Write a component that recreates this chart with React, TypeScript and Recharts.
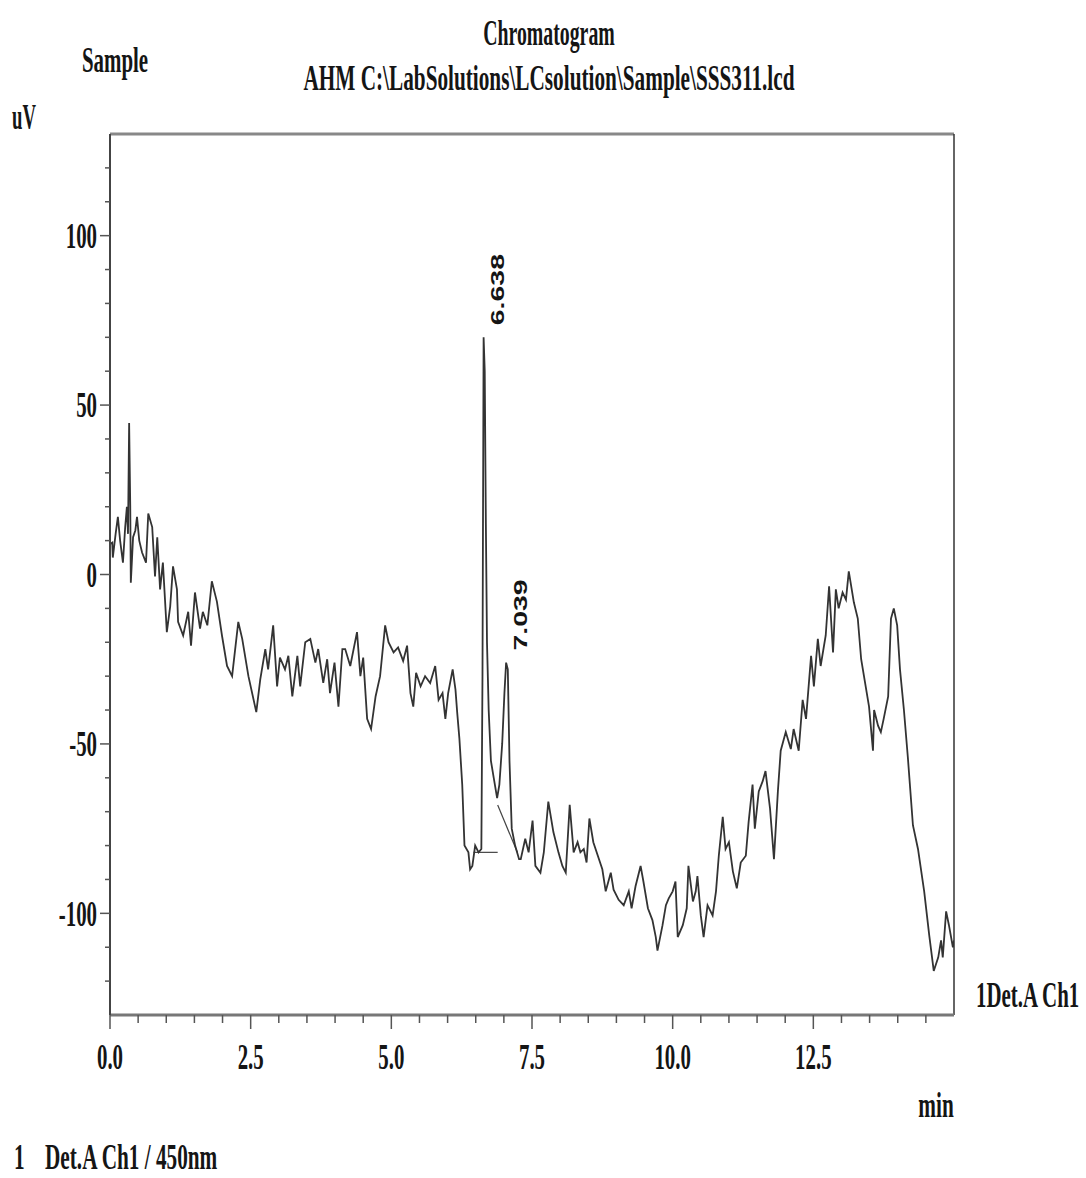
import React from 'react';
import { LineChart, Line, XAxis, YAxis, ReferenceLine, ReferenceDot } from 'recharts';

// Retention time (min) / signal (uV).
const traceDrift: [number, number][] = [
  [0.0, 9], [0.04, 9.4], [0.05, 5], [0.1, 12], [0.14, 17], [0.18, 10], [0.23, 3.5],
  [0.27, 14], [0.3, 20], [0.32, 12], [0.34, 44.7], [0.36, 20], [0.37, -2.4], [0.41, 11],
  [0.45, 13], [0.48, 17], [0.52, 10], [0.57, 6.5], [0.64, 3.5], [0.68, 18], [0.75, 14],
  [0.8, -0.6], [0.84, 11], [0.89, -4.4], [0.94, 3.5], [1.01, -17], [1.07, -9.4],
  [1.12, 2.4], [1.19, -4.4], [1.21, -14], [1.3, -18], [1.39, -11], [1.44, -21],
  [1.51, -5.3], [1.6, -16], [1.65, -11], [1.73, -15], [1.81, -2], [1.9, -8], [1.99, -18],
  [2.08, -27], [2.17, -30], [2.28, -14], [2.35, -19], [2.46, -30], [2.6, -40.6],
  [2.67, -31], [2.76, -22], [2.81, -28], [2.9, -15], [2.97, -33], [3.02, -24.5],
  [3.11, -28], [3.17, -24], [3.24, -36], [3.33, -24], [3.38, -33], [3.47, -20],
  [3.56, -19], [3.65, -26], [3.7, -22], [3.79, -32], [3.86, -25], [3.91, -35],
  [3.99, -26], [4.06, -39], [4.13, -22],
];

const tracePlateau: [number, number][] = [
  [4.18, -22], [4.27, -27], [4.39, -17], [4.45, -30], [4.5, -24.5], [4.57, -42.6],
  [4.64, -45.6], [4.72, -36], [4.8, -30], [4.89, -15], [4.95, -20], [5.04, -23],
  [5.12, -21.5], [5.21, -25.5], [5.28, -21], [5.34, -35], [5.39, -39], [5.44, -29],
  [5.52, -33], [5.6, -30], [5.69, -32], [5.78, -27], [5.84, -37], [5.91, -35],
  [5.96, -42.6], [6.01, -35], [6.09, -28], [6.14, -34], [6.17, -40.6], [6.21, -48.5],
  [6.26, -62], [6.3, -80], [6.37, -82], [6.4, -87], [6.44, -86], [6.49, -80],
  [6.55, -82], [6.6, -81],
];

const tracePeaks: [number, number][] = [
  [6.62, -30], [6.64, 70], [6.66, 60], [6.68, 15], [6.7, -20], [6.73, -40], [6.77, -55],
  [6.82, -60], [6.88, -66], [6.92, -62], [6.97, -50], [7.01, -35], [7.04, -26],
  [7.07, -28], [7.1, -55], [7.14, -75], [7.2, -80], [7.27, -84],
];

const traceValley: [number, number][] = [
  [7.3, -84], [7.38, -78], [7.44, -82], [7.51, -72.6], [7.56, -86], [7.65, -88],
  [7.71, -82], [7.79, -67], [7.88, -76], [7.97, -82], [8.04, -86], [8.1, -88],
  [8.17, -68], [8.24, -82], [8.31, -79], [8.36, -82], [8.42, -81], [8.47, -85],
  [8.52, -72], [8.59, -79], [8.67, -83], [8.75, -87], [8.81, -93.5], [8.9, -88],
  [8.95, -93], [9.04, -96], [9.13, -97.6], [9.22, -93.5], [9.27, -98.5], [9.34, -92],
  [9.43, -86], [9.48, -90.6], [9.56, -98.5], [9.64, -102], [9.7, -107], [9.73, -111],
  [9.82, -103.5], [9.88, -97.6], [9.93, -95.6], [10.0, -93.5], [10.05, -90.6],
  [10.09, -107], [10.18, -103.5], [10.25, -98.5], [10.28, -86], [10.36, -96.5],
  [10.41, -93.5], [10.44, -89], [10.5, -100.6], [10.55, -107], [10.62, -97.6],
  [10.71, -100.6], [10.77, -93.5], [10.82, -83], [10.89, -71.5], [10.94, -81],
  [11.0, -79], [11.07, -87.6], [11.14, -92.6], [11.21, -85], [11.3, -83], [11.35, -73],
  [11.42, -62], [11.46, -75], [11.53, -64], [11.6, -61], [11.65, -58], [11.73, -69],
  [11.8, -84], [11.87, -64], [11.92, -52],
];

const traceHump: [number, number][] = [
  [12.01, -46.5], [12.1, -51.5], [12.15, -45.6], [12.24, -52], [12.31, -37],
  [12.37, -42.6], [12.46, -24], [12.51, -33], [12.58, -19], [12.63, -27], [12.72, -18],
  [12.78, -3.5], [12.85, -23], [12.9, -4.4], [12.95, -10], [13.02, -5.3], [13.08, -7.4],
  [13.13, 0.9], [13.22, -8.2], [13.29, -13], [13.35, -25], [13.4, -30], [13.49, -39],
  [13.56, -52], [13.58, -40], [13.65, -44.6], [13.7, -46.5], [13.75, -42.6],
  [13.83, -36], [13.88, -13], [13.93, -10], [13.99, -15], [14.04, -28], [14.11, -40],
  [14.18, -54], [14.27, -74], [14.36, -81], [14.47, -93.5], [14.56, -106.5],
  [14.64, -117], [14.72, -113], [14.77, -108], [14.8, -113], [14.86, -99.4],
  [14.91, -103.5], [14.98, -110], [15.0, -108],
];

// integration baselines drawn under the two peaks
const baselinePeak1: [number, number][] = [[6.46, -82], [6.89, -82]];
const baselinePeak2: [number, number][] = [[6.89, -68], [7.24, -82]];

const peaks = [
  { t: 6.638, v: 70, label: '6.638' },
  { t: 7.039, v: -26, label: '7.039' },
];

const timeTicks = [
  0, 0.5, 1, 1.5, 2, 2.5, 3, 3.5, 4, 4.5, 5, 5.5, 6, 6.5, 7, 7.5, 8, 8.5, 9, 9.5, 10,
  10.5, 11, 11.5, 12, 12.5, 13, 13.5, 14, 14.5,
];
const timeLabels = [0, 2.5, 5, 7.5, 10, 12.5];
const uvTicks = [
  -120, -110, -100, -90, -80, -70, -60, -50, -40, -30, -20, -10, 0, 10, 20, 30, 40, 50,
  60, 70, 80, 90, 100, 110, 120,
];
const uvLabels = [-100, -50, 0, 50, 100];

const toPoints = (rows: [number, number][]) => rows.map(([t, v]) => ({ t, v }));
const trace = toPoints([...traceDrift, ...tracePlateau, ...tracePeaks, ...traceValley, ...traceHump]);

const SERIF = '"Liberation Serif", "Times New Roman", serif';
const INK = '#151515';
const FONT_PX = 36;
const SQUEEZE = 0.58;

function TimeTick({ x, y, payload }: any) {
  const major = timeLabels.includes(payload.value);
  return (
    <g>
      <line x1={x} x2={x} y1={y} y2={y + (major ? 14 : 8)} stroke="#555" strokeWidth={1.5} />
      {major && (
        <text
          transform={`translate(${x},${y + 42}) scale(${SQUEEZE},1)`}
          textAnchor="middle"
          dominantBaseline="central"
          fontFamily={SERIF}
          fontWeight={700}
          fontSize={FONT_PX}
          fill={INK}
        >
          {payload.value.toFixed(1)}
        </text>
      )}
    </g>
  );
}

function UvTick({ x, y, payload }: any) {
  const major = uvLabels.includes(payload.value);
  return (
    <g>
      <line x1={x} x2={x - (major ? 10 : 5)} y1={y} y2={y} stroke="#555" strokeWidth={1.5} />
      {major && (
        <text
          transform={`translate(${x - 13},${y}) scale(${SQUEEZE},1)`}
          textAnchor="end"
          dominantBaseline="central"
          fontFamily={SERIF}
          fontWeight={700}
          fontSize={FONT_PX}
          fill={INK}
        >
          {payload.value}
        </text>
      )}
    </g>
  );
}

const peakLabel = (text: string) => (props: any) => {
  const { viewBox } = props;
  const cx = viewBox.x + (viewBox.width || 0) / 2;
  const cy = viewBox.y + (viewBox.height || 0) / 2;
  return (
    <text
      transform={`translate(${cx + 14},${cy - 12}) rotate(-90) scale(1.5,1)`}
      textAnchor="start"
      dominantBaseline="central"
      fontFamily='"Liberation Sans", Arial, sans-serif'
      fontWeight={700}
      fontSize={19}
      fill={INK}
    >
      {text}
    </text>
  );
};

const caption = (left: number, top: number, scale = SQUEEZE, anchor: 'center' | 'left' = 'center'): React.CSSProperties => ({
  position: 'absolute',
  left,
  top,
  fontFamily: SERIF,
  fontWeight: 700,
  fontSize: FONT_PX,
  lineHeight: 1,
  color: INK,
  whiteSpace: 'nowrap',
  transformOrigin: anchor === 'center' ? 'center' : 'left center',
  transform: anchor === 'center'
    ? `translate(-50%, -50%) scaleX(${scale})`
    : `translateY(-50%) scaleX(${scale})`,
});

export default function App() {
  return (
    <div style={{ position: 'absolute', left: 0, top: 0, width: 1086, height: 1178, background: '#fff', overflow: 'hidden' }}>
      <LineChart width={1086} height={1178} margin={{ top: 134, right: 132, bottom: 103, left: 50 }}>
        <XAxis
          type="number"
          dataKey="t"
          domain={[0, 15]}
          allowDataOverflow
          ticks={timeTicks}
          interval={0}
          tickSize={0}
          tickMargin={0}
          tick={<TimeTick />}
          height={60}
          axisLine={{ stroke: '#777', strokeWidth: 3 }}
        />
        <YAxis
          type="number"
          dataKey="v"
          domain={[-130, 130]}
          allowDataOverflow
          ticks={uvTicks}
          interval={0}
          tickSize={0}
          tickMargin={0}
          tick={<UvTick />}
          width={60}
          axisLine={{ stroke: '#444', strokeWidth: 2 }}
        />
        <ReferenceLine y={130} stroke="#888" strokeWidth={3} />
        <ReferenceLine x={15} stroke="#333" strokeWidth={1.5} />
        <Line
          data={toPoints(baselinePeak1)}
          dataKey="v"
          type="linear"
          stroke="#444"
          strokeWidth={1.2}
          dot={false}
          isAnimationActive={false}
        />
        <Line
          data={toPoints(baselinePeak2)}
          dataKey="v"
          type="linear"
          stroke="#444"
          strokeWidth={1.2}
          dot={false}
          isAnimationActive={false}
        />
        <Line
          data={trace}
          dataKey="v"
          type="linear"
          stroke="#333"
          strokeWidth={1.8}
          dot={false}
          isAnimationActive={false}
        />
        {peaks.map((p) => (
          <ReferenceDot
            key={p.label}
            x={p.t}
            y={p.v}
            r={0}
            stroke="none"
            fill="none"
            label={peakLabel(p.label)}
          />
        ))}
      </LineChart>

      <div style={caption(549, 33, 0.55)}>Chromatogram</div>
      <div style={caption(115, 60)}>Sample</div>
      <div style={caption(549, 78, 0.59)}>AHM C:\LabSolutions\LCsolution\Sample\SSS311.lcd</div>
      <div style={caption(12, 117, 0.52, 'left')}>uV</div>
      <div style={caption(936, 1105, 0.59)}>min</div>
      <div style={caption(976, 995, 0.58, 'left')}>1Det.A Ch1</div>
      <div style={caption(14, 1157, 0.59, 'left')}>1</div>
      <div style={caption(45, 1157, 0.59, 'left')}>Det.A Ch1 / 450nm</div>
    </div>
  );
}
